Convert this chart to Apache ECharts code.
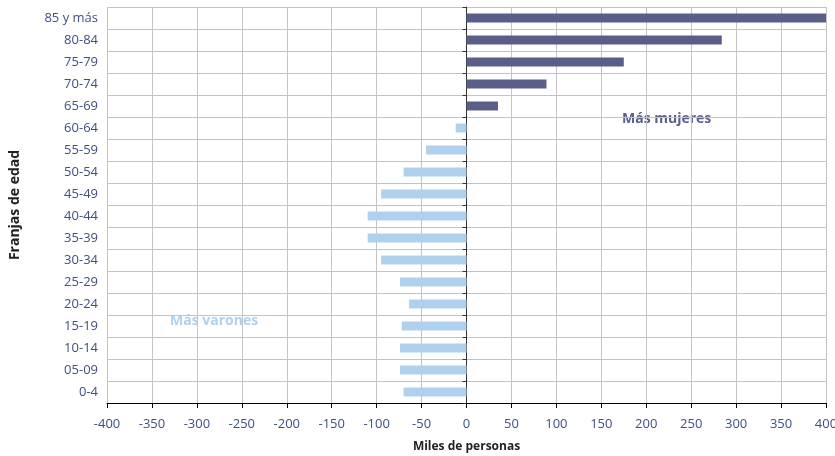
<!DOCTYPE html>
<html><head><meta charset="utf-8">
<script src="https://cdn.jsdelivr.net/npm/echarts@6/dist/echarts.min.js"></script>
<style>html,body{margin:0;padding:0;background:#fff}#c{width:835px;height:456px}</style>
</head><body><div id="c"></div>
<script>
const categories = ['0-4','05-09','10-14','15-19','20-24','25-29','30-34','35-39','40-44','45-49','50-54','55-59','60-64','65-69','70-74','75-79','80-84','85 y más'];
const masVarones = [-70,-74,-74,-72,-64,-74,-95,-110,-110,-95,-70,-45,-12,null,null,null,null,null];
const masMujeres = [null,null,null,null,null,null,null,null,null,null,null,null,null,35,89,175,284,400];
const xTicks = {min:-400, max:400, interval:50};

const labelColor = '#3E4E86';
const gridColor = '#C4C4C4';
const chart = echarts.init(document.getElementById('c'));
chart.setOption({
  animation:false,
  textStyle:{fontFamily:'Open Sans'},
  grid:{left:107, right:9, top:7, bottom:53, containLabel:false, outerBoundsMode:'none'},
  xAxis:{
    type:'value', min:xTicks.min, max:xTicks.max, interval:xTicks.interval,
    name:'Miles de personas', nameLocation:'middle', nameGap:38,
    nameTextStyle:{color:'#222', fontWeight:'bold', fontSize:12, fontFamily:'Open Sans'},
    axisLine:{show:true, onZero:false, lineStyle:{color:'#000', width:1}},
    axisTick:{show:true, length:5, lineStyle:{color:'#000'}},
    axisLabel:{color:labelColor, fontSize:13, margin:15},
    splitLine:{show:true, lineStyle:{color:gridColor, width:1}}
  },
  yAxis:[{
    type:'category', data:categories,
    name:'Franjas de edad', nameLocation:'middle', nameGap:85, nameRotate:90,
    nameTextStyle:{color:'#222', fontWeight:'bold', fontSize:14, fontFamily:'Open Sans'},
    axisLine:{show:false, onZero:false},
    axisTick:{show:false},
    axisLabel:{color:labelColor, fontSize:13, margin:9},
    splitLine:{show:true, lineStyle:{color:gridColor, width:1}}
  },{
    type:'category', data:categories, position:'left',
    axisLine:{show:true, onZero:true, lineStyle:{color:'#333', width:1}},
    axisTick:{show:true, length:4, lineStyle:{color:'#333'}},
    axisLabel:{show:false},
    splitLine:{show:false}
  }],
  series:[{
    type:'bar', name:'Más varones', data:masVarones, stack:'a', barWidth:9,
    itemStyle:{color:'#AFD1EE'}, yAxisIndex:0
  },{
    type:'bar', name:'Más mujeres', data:masMujeres, stack:'a', barWidth:9,
    itemStyle:{color:'#5A5F8A'}, yAxisIndex:0
  }],
  graphic:[
    {type:'text', left:622, top:112, style:{text:'Más mujeres', fill:'#5A5F8A', font:'bold 14px "Open Sans"'}},
    {type:'text', left:170, top:314, style:{text:'Más varones', fill:'#AFD1EE', font:'bold 14px "Open Sans"'}}
  ]
});
</script></body></html>
